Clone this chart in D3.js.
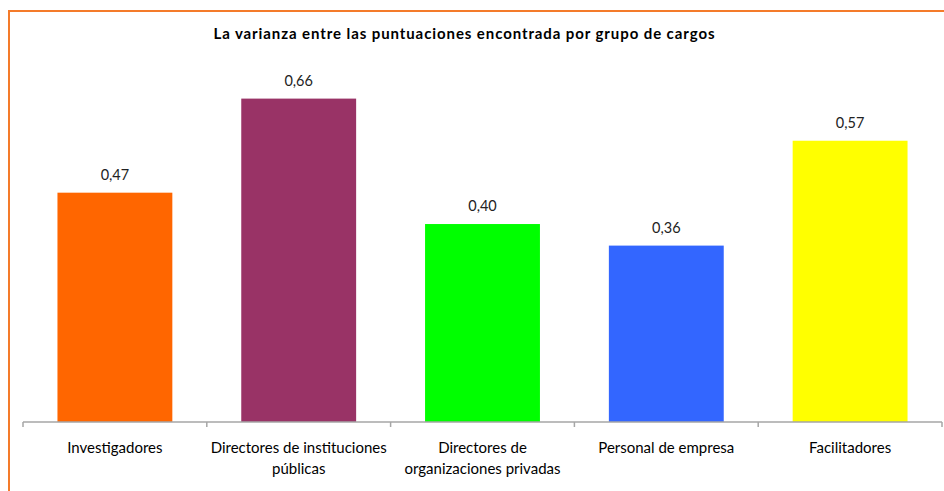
<!DOCTYPE html>
<html><head><meta charset="utf-8">
<script src="https://cdn.jsdelivr.net/npm/d3@7"></script>
<style>
html,body{margin:0;padding:0;background:#fff;overflow:hidden}
svg{display:block}
</style></head>
<body>
<svg id="chart" width="944" height="491"></svg>
<script>
const title = "La varianza entre las puntuaciones encontrada por grupo de cargos";
const categories = ["Investigadores","Directores de instituciones públicas","Directores de organizaciones privadas","Personal de empresa","Facilitadores"];
const categoryLines = [["Investigadores"],["Directores de instituciones","públicas"],["Directores de","organizaciones privadas"],["Personal de empresa"],["Facilitadores"]];
const values = [0.468, 0.66, 0.404, 0.36, 0.574];
const colors = ["#ff6600","#993366","#00ff00","#3366ff","#ffff00"];

const font = "Lato, 'Open Sans', sans-serif";
const svg = d3.select("#chart");

// outer border (cut off at right and bottom like the reference)
svg.append("rect").attr("x",9).attr("y",11).attr("width",1000).attr("height",600)
  .attr("fill","#fff").attr("stroke","#f47b2a").attr("stroke-width",2);

const x = d3.scaleBand().domain(categories).range([23, 942]).paddingInner(0.375).paddingOuter(0.1875);
const y = d3.scaleLinear().domain([0, 0.7]).range([422, 422 - 490*0.7]);

svg.append("text").attr("x",464).attr("y",39).attr("text-anchor","middle")
  .attr("font-family",font).attr("font-weight","bold").attr("font-size",15).attr("fill","#000")
  .attr("textLength",501).attr("lengthAdjust","spacing")
  .text(title);

svg.selectAll("rect.bar").data(values).join("rect").attr("class","bar")
  .attr("x",(d,i)=>x(categories[i])).attr("width",x.bandwidth())
  .attr("y",d=>y(d)).attr("height",d=>y(0)-y(d)).attr("fill",(d,i)=>colors[i]);

const fmt = d3.format(".2f");
svg.selectAll("text.lbl").data(values).join("text").attr("class","lbl")
  .attr("x",(d,i)=>x(categories[i])+x.bandwidth()/2).attr("y",d=>y(d)-13)
  .attr("text-anchor","middle").attr("font-family",font).attr("font-size",14.5).attr("fill","#222")
  .text(d=>fmt(d).replace(".",","));

// axis
const ax = svg.append("g").attr("transform",`translate(0,${y(0)})`)
  .call(d3.axisBottom(x).tickSize(0).tickFormat(""));
ax.select(".domain").attr("stroke","#a6a6a6").attr("stroke-width",1.5).attr("d",`M${x.range()[0]},0H${x.range()[1]}`);
const bounds = categories.map(c=>x(c)-x.step()*x.paddingInner()/2).concat([x.range()[1]]);
ax.selectAll("line.bt").data(bounds).join("line").attr("class","bt")
  .attr("x1",d=>d).attr("x2",d=>d).attr("y1",0).attr("y2",5).attr("stroke","#a6a6a6").attr("stroke-width",1.5);

const cl = svg.selectAll("text.cat").data(categoryLines).join("text").attr("class","cat")
  .attr("text-anchor","middle").attr("font-family",font).attr("font-size",15).attr("fill","#000");
cl.each(function(lines,i){
  const t = d3.select(this);
  lines.forEach((l,j)=>{
    t.append("tspan").attr("x",x(categories[i])+x.bandwidth()/2).attr("y",453+j*20.5).text(l);
  });
});
</script>
</body></html>
